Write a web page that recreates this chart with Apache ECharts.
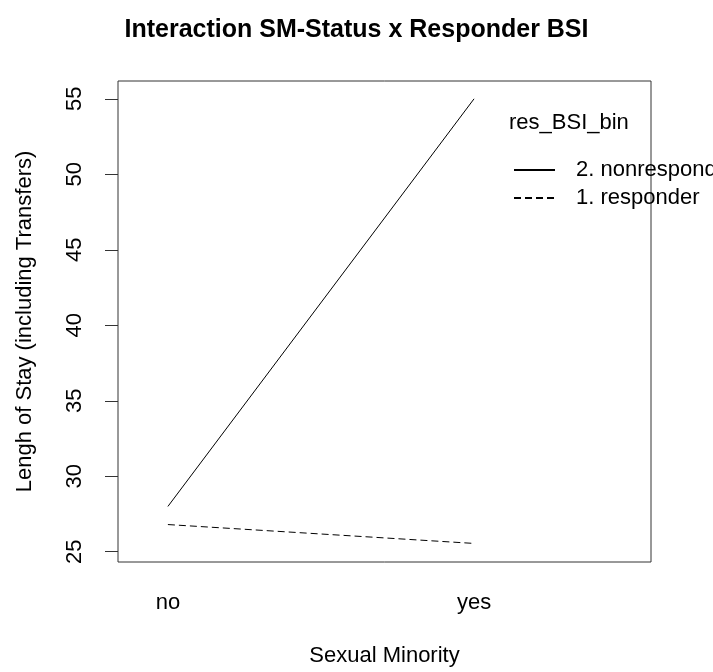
<!DOCTYPE html>
<html>
<head>
<meta charset="utf-8">
<script src="https://cdn.jsdelivr.net/npm/echarts@6/dist/echarts.min.js"></script>
<style>
  html, body { margin: 0; padding: 0; background: #fff; }
  #chart { width: 713px; height: 672px; }
</style>
</head>
<body>
<div id="chart"></div>
<script>
// x levels (Sexual Minority) and their positions on the axis
var xLevels = ['no', 'yes'];
var xPos = [1, 2];
var yTicks = [25, 30, 35, 40, 45, 50, 55];

// mean length of stay per group
var nonresponder = [28.0, 55.0];
var responder = [26.8, 25.55];

var seriesNames = ['2. nonresponder', '1. responder'];

function toPoints(vals) {
  return vals.map(function (v, i) { return [xPos[i], v]; });
}

var font = 'Liberation Sans, Arial, sans-serif';
var chart = echarts.init(document.getElementById('chart'));

chart.setOption({
  backgroundColor: '#ffffff',
  animation: false,
  textStyle: { fontFamily: font, color: '#000' },
  title: [
    {
      text: 'Interaction SM-Status x Responder BSI',
      left: 'center',
      top: 13,
      textStyle: { fontFamily: font, fontSize: 25, fontWeight: 'bold', color: '#000' }
    },
    {
      // legend title
      text: 'res_BSI_bin',
      left: 509,
      top: 112,
      padding: 0,
      textStyle: { fontFamily: font, fontSize: 22, fontWeight: 'normal', color: '#000' }
    }
  ],
  legend: {
    data: seriesNames,
    orient: 'vertical',
    left: 513,
    top: 159,
    padding: 0,
    itemWidth: 41,
    itemHeight: 14,
    itemGap: 6,
    itemStyle: { color: 'transparent', borderColor: 'transparent', borderWidth: 0 },
    textStyle: { fontFamily: font, fontSize: 22, color: '#000', padding: [0, 0, 0, 16] }
  },
  grid: {
    left: 118,
    top: 81,
    right: 62,
    bottom: 109,
    show: true,
    borderColor: '#333',
    borderWidth: 1,
    backgroundColor: 'transparent'
  },
  xAxis: {
    type: 'value',
    min: 0.837,
    max: 2.578,
    name: 'Sexual Minority',
    nameLocation: 'middle',
    nameGap: 83,
    nameTextStyle: { fontFamily: font, fontSize: 22, color: '#000' },
    axisLine: { show: false },
    axisTick: { show: false },
    splitLine: { show: false },
    axisLabel: {
      customValues: xPos,
      margin: 30,
      fontFamily: font,
      fontSize: 22,
      color: '#000',
      formatter: function (v) {
        var i = xPos.indexOf(v);
        return i >= 0 ? xLevels[i] : '';
      }
    }
  },
  yAxis: {
    type: 'value',
    min: 24.32,
    max: 56.18,
    name: 'Lengh of Stay (including Transfers)',
    nameLocation: 'middle',
    nameGap: 82,
    nameTextStyle: { fontFamily: font, fontSize: 22, color: '#000' },
    axisLine: { show: false },
    splitLine: { show: false },
    axisTick: {
      show: true,
      customValues: yTicks,
      length: 13,
      lineStyle: { color: '#333', width: 1 }
    },
    axisLabel: {
      customValues: yTicks,
      rotate: 90,
      margin: 32,
      fontFamily: font,
      fontSize: 22,
      color: '#000'
    }
  },
  series: [
    {
      name: seriesNames[0],
      type: 'line',
      data: toPoints(nonresponder),
      symbol: 'none',
      color: '#000',
      lineStyle: { color: '#000', width: 1, type: 'solid' }
    },
    {
      name: seriesNames[1],
      type: 'line',
      data: toPoints(responder),
      symbol: 'none',
      color: '#000',
      lineStyle: { color: '#000', width: 1, type: [7, 4] }
    }
  ]
});
</script>
</body>
</html>
